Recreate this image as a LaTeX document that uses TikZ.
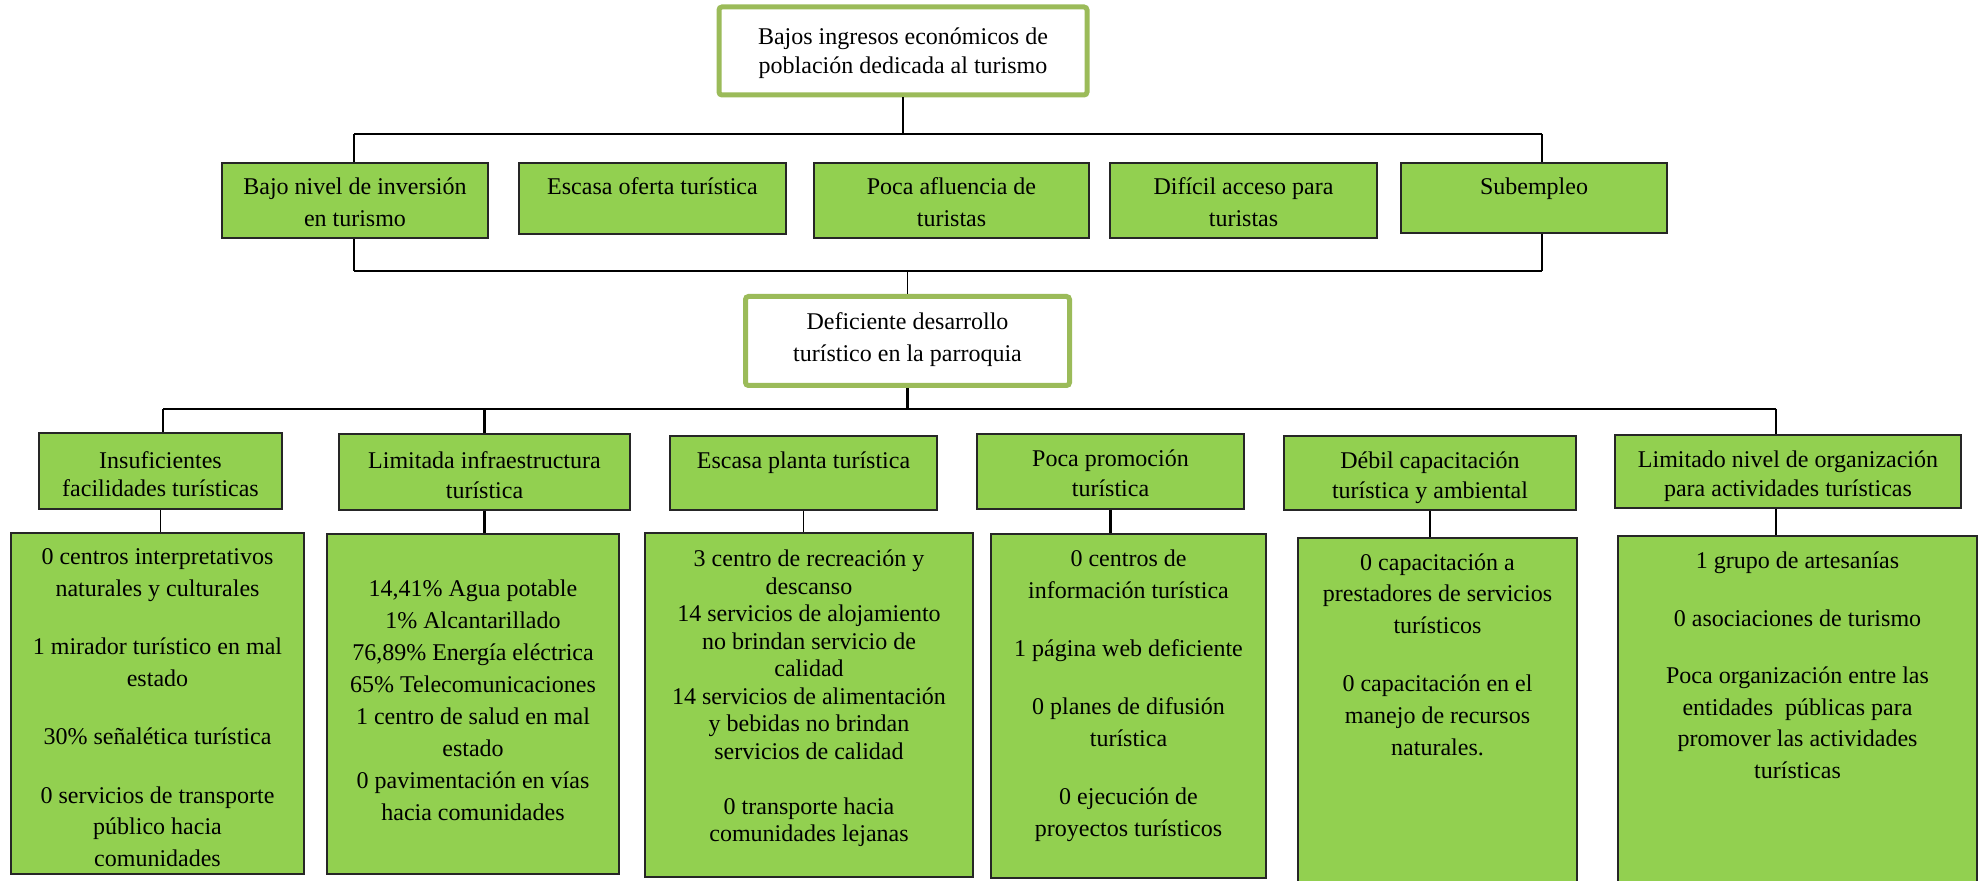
\documentclass[tikz,border=0pt]{standalone}
\usepackage{fontspec}
\setmainfont{Liberation Serif}
\usepackage{tikz}
\definecolor{leafgreen}{HTML}{92D050}
\definecolor{olivegreen}{HTML}{9BBB59}
% width, height, first baseline, line skip, text
\newcommand{\cellbox}[5]{\parbox[c][#2][t]{#1}{\centering\fontsize{12pt}{#4}\selectfont\rule{0pt}{#3}#5\par}}
\tikzset{
  headbox/.style={draw=olivegreen, line width=2.5pt, fill=white, rounded corners=1.5pt, inner sep=0pt},
  causebox/.style={draw=black!85, line width=0.7pt, fill=leafgreen, inner sep=0pt},
  thinwire/.style={draw=black, line width=0.55pt},
  thickwire/.style={draw=black, line width=1.1pt}
}
\begin{document}
\begin{tikzpicture}[x=0.5pt,y=-0.5pt]
\useasboundingbox (0,0) rectangle (1982,881);
% Drawing main boxes
\node[headbox] (effect) at (903,51) {\cellbox{184pt}{44pt}{19pt}{14.5pt}{Bajos ingresos económicos de\\población dedicada al turismo}};
\node[headbox] (cause) at (907.5,341) {\cellbox{162pt}{44.5pt}{16.75pt}{16pt}{Deficiente desarrollo\\turístico en la parroquia}};
% Drawing effects
\node[causebox] (e1) at (355,200.5) {\cellbox{133pt}{37.5pt}{16pt}{16pt}{Bajo nivel de inversión\\en turismo}};
\node[causebox] (e2) at (652.5,198.5) {\cellbox{133.5pt}{35.5pt}{16pt}{16pt}{Escasa oferta turística}};
\node[causebox] (e3) at (951.5,200.5) {\cellbox{137.5pt}{37.5pt}{16pt}{16pt}{Poca afluencia de\\turistas}};
\node[causebox] (e4) at (1243.5,200.5) {\cellbox{133.5pt}{37.5pt}{16pt}{16pt}{Difícil acceso para\\turistas}};
\node[causebox] (e5) at (1534,198) {\cellbox{133pt}{35pt}{16pt}{16pt}{Subempleo}};
% Drawing causes
\node[causebox] (c1) at (160.5,471) {\cellbox{121.5pt}{38pt}{18pt}{14pt}{Insuficientes\\facilidades turísticas}};
\node[causebox] (c2) at (484.5,472) {\cellbox{145.5pt}{38pt}{17.5pt}{15pt}{Limitada infraestructura\\turística}};
\node[causebox] (c3) at (803.5,473) {\cellbox{133.5pt}{37pt}{16.5pt}{15pt}{Escasa planta turística}};
\node[causebox] (c4) at (1110.5,471.5) {\cellbox{133.5pt}{37.5pt}{16.5pt}{15pt}{Poca promoción\\turística}};
\node[causebox] (c5) at (1430,473) {\cellbox{146pt}{37pt}{16.5pt}{15pt}{Débil capacitación\\turística y ambiental}};
\node[causebox] (c6) at (1788,471.5) {\cellbox{173pt}{36.5pt}{16.5pt}{14.5pt}{Limitado nivel de organización\\para actividades turísticas}};
% Drawing data boxes
\node[causebox] (d1) at (157.5,703.5) {\cellbox{146.5pt}{170.5pt}{16pt}{15.75pt}{0 centros interpretativos\\naturales y culturales\\[13.5pt]1 mirador turístico en mal\\estado\\[13.5pt]30\% señalética turística\\[13.5pt]0 servicios de transporte\\público hacia\\comunidades}};
\node[causebox] (d2) at (473,704) {\cellbox{146pt}{170pt}{31.5pt}{16pt}{14,41\% Agua potable\\1\% Alcantarillado\\76,89\% Energía eléctrica\\65\% Telecomunicaciones\\1 centro de salud en mal\\estado\\0 pavimentación en vías\\hacia comunidades}};
\node[causebox] (d3) at (809,705) {\cellbox{164pt}{172pt}{17pt}{13.75pt}{3 centro de recreación y\\descanso\\14 servicios de alojamiento\\no brindan servicio de\\calidad\\14 servicios de alimentación\\y bebidas no brindan\\servicios de calidad\\[13.75pt]0 transporte hacia\\comunidades lejanas}};
\node[causebox] (d4) at (1128.5,706) {\cellbox{137.5pt}{172pt}{16.5pt}{16pt}{0 centros de\\información turística\\[13pt]1 página web deficiente\\[13pt]0 planes de difusión\\turística\\[13pt]0 ejecución de\\proyectos turísticos}};
\node[causebox] (d5) at (1437.5,714) {\cellbox{139.5pt}{176pt}{16pt}{15.75pt}{0 capacitación a\\prestadores de servicios\\turísticos\\[13.75pt]0 capacitación en el\\manejo de recursos\\naturales.}};
\node[causebox] (d6) at (1797.5,713) {\cellbox{179.5pt}{177pt}{16.5pt}{15.75pt}{1 grupo de artesanías\\[13pt]0 asociaciones de turismo\\[13pt]Poca organización entre las\\entidades\ \ públicas para\\promover las actividades\\turísticas}};
% Done with boxes; drawing wires
% Upper bar: effect to effects
\coordinate (l1w) at (354,134);
\coordinate (l1e) at (1542,134);
\draw[thinwire] (l1w) -- (l1e);
\draw[thinwire] (effect.south) -- (effect.south |- l1w);
\draw[thinwire] (l1w) -- (l1w |- e1.north);
\draw[thinwire] (l1e) -- (l1e |- e5.north);
% Lower bar: effects to cause
\coordinate (l2w) at (354,271);
\coordinate (l2e) at (1542,271);
\draw[thickwire] (l2w) -- (l2e);
\draw[thinwire] (l2w |- e1.south) -- (l2w);
\draw[thinwire] (l2e |- e5.south) -- (l2e);
\draw[thinwire] (cause.north |- l2w) -- (cause.north);
% Cause bar: cause to causes
\coordinate (l3w) at (163,409);
\coordinate (l3e) at (1776,409);
\draw[thinwire] (l3w) -- (l3e);
\draw[thickwire] (cause.south) -- (cause.south |- l3w);
\draw[thinwire] (l3w) -- (l3w |- c1.north);
\draw[thickwire] (c2.north |- l3w) -- (c2.north);
\draw[thickwire] (l3e) -- (l3e |- c6.north);
% Causes to data boxes
\draw[thinwire] (c1.south) -- (c1.south |- d1.north);
\draw[thickwire] (c2.south) -- (c2.south |- d2.north);
\draw[thinwire] (c3.south) -- (c3.south |- d3.north);
\draw[thickwire] (c4.south) -- (c4.south |- d4.north);
\draw[thickwire] (c5.south) -- (c5.south |- d5.north);
\draw[thinwire] (l3e |- c6.south) -- (l3e |- d6.north);
% Done with wires
\end{tikzpicture}
\end{document}
